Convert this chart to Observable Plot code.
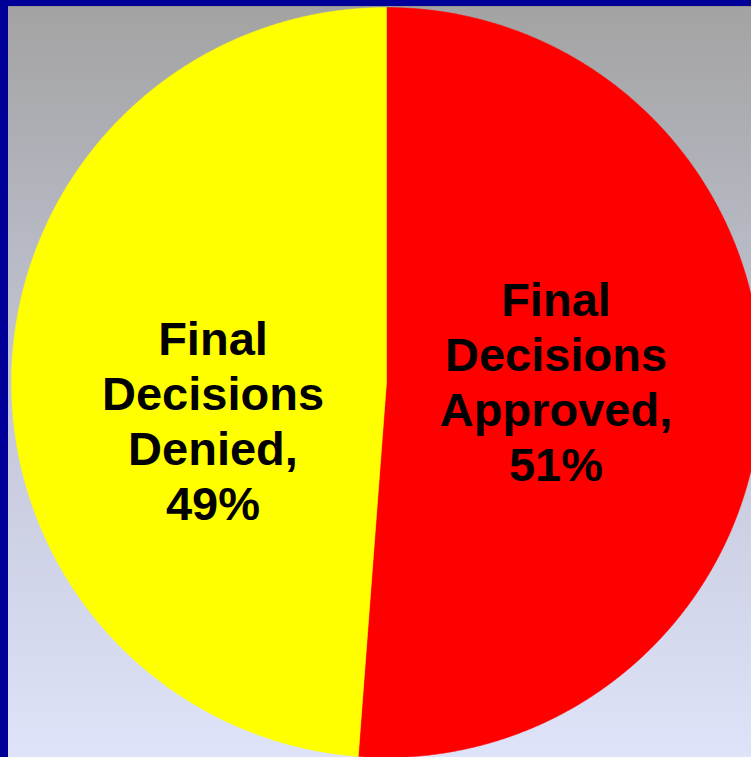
<!DOCTYPE html>
<html><head><meta charset="utf-8">
<script src="https://cdn.jsdelivr.net/npm/d3@7"></script>
<script src="https://cdn.jsdelivr.net/npm/@observablehq/plot@0.6"></script>
<style>
html,body{margin:0;padding:0;background:#dfe3f9;}
#wrap{position:relative;width:751px;height:757px;overflow:hidden;background:linear-gradient(to bottom,#a3a3a3 0px,#a3a3a3 7px,#c2c5d6 380px,#dfe3f9 757px);}
#wrap svg{position:absolute;left:0;top:0;background:transparent;}
.bl{position:absolute;left:0;top:0;width:8px;height:757px;background:#000099;}
.bt{position:absolute;left:0;top:0;width:751px;height:6px;background:#000099;}
.bt2{position:absolute;left:8px;top:6px;width:743px;height:1px;background:#959595;}
</style></head>
<body><div id="wrap"></div>
<script>
const categories = ["Final Decisions Approved", "Final Decisions Denied"];
const values = [51.2, 48.8];
const labels = ["Final\nDecisions\nApproved,\n51%", "Final\nDecisions\nDenied,\n49%"];
const colors = ["#ff0000", "#ffff00"];

// Layout
const W = 751, H = 757, cx = 386, cy = 382, R = 375;
const arcs = d3.pie().sort(null).value(d => d)(values);

const slicePts = [];
arcs.forEach((a, i) => {
  slicePts.push({cat: categories[i], x: 0, y: 0});
  const n = Math.ceil((a.endAngle - a.startAngle) / 0.004);
  for (let k = 0; k <= n; k++) {
    const t = a.startAngle + (a.endAngle - a.startAngle) * k / n;
    slicePts.push({cat: categories[i], x: Math.sin(t), y: Math.cos(t)});
  }
  slicePts.push({cat: categories[i], x: 0, y: 0});
});

const labelPts = arcs.map((a, i) => {
  const m = (a.startAngle + a.endAngle) / 2;
  return {cat: categories[i], label: labels[i], x: 0.455 * Math.sin(m), y: 0.455 * Math.cos(m)};
});

const plot = Plot.plot({
  width: W, height: H,
  margin: 0,
  style: {background: "transparent", overflow: "hidden"},
  x: {domain: [-cx / R, (W - cx) / R], axis: null},
  y: {domain: [-(H - cy) / R, cy / R], axis: null},
  color: {domain: categories, range: colors},
  marks: [
    Plot.line(slicePts, {x: "x", y: "y", z: "cat", fill: "cat", stroke: "cat", strokeWidth: 0.5, curve: "linear"}),
    Plot.text(labelPts.filter(d => d.cat === categories[0]), {
      x: "x", y: "y", text: "label", dx: -1, dy: -8,
      fontSize: 47, fontWeight: "bold", fontFamily: "Liberation Sans, Arial, sans-serif",
      lineHeight: 1.17, fill: "black", textAnchor: "middle", lineAnchor: "middle"
    }),
    Plot.text(labelPts.filter(d => d.cat === categories[1]), {
      x: "x", y: "y", text: "label", dx: -3, dy: 44,
      fontSize: 47, fontWeight: "bold", fontFamily: "Liberation Sans, Arial, sans-serif",
      lineHeight: 1.17, fill: "black", textAnchor: "middle", lineAnchor: "middle"
    })
  ]
});

const wrap = document.getElementById("wrap");
wrap.appendChild(plot);
["bl", "bt", "bt2"].forEach(c => { const d = document.createElement("div"); d.className = c; wrap.appendChild(d); });
</script>
</body></html>
